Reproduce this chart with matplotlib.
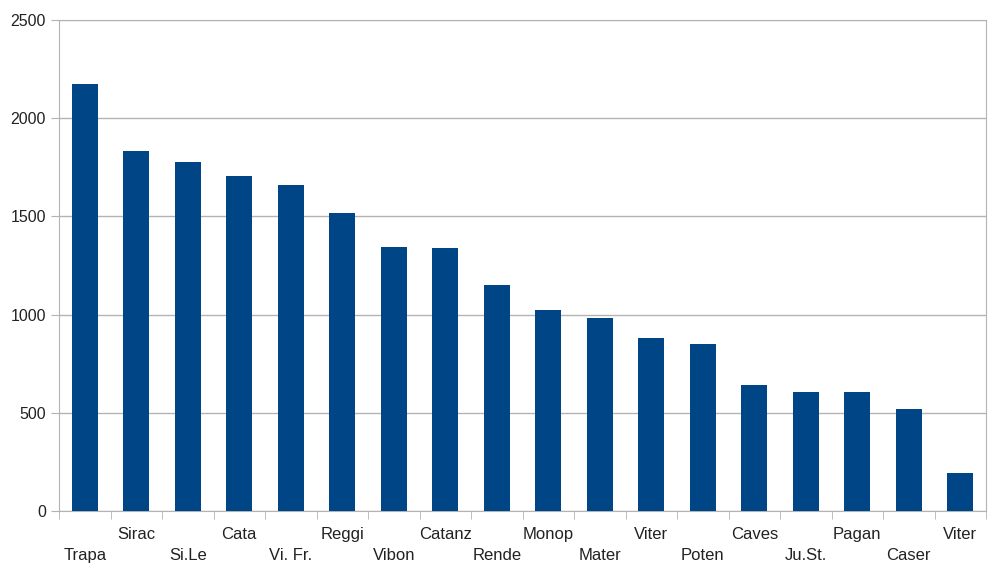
import numpy as np
import matplotlib.pyplot as plt

plt.rcParams['font.family'] = ['Liberation Sans', 'DejaVu Sans']

labels = ["Trapa", "Sirac", "Si.Le", "Cata", "Vi. Fr.", "Reggi", "Vibon", "Catanz", "Rende",
          "Monop", "Mater", "Viter", "Poten", "Caves", "Ju.St.", "Pagan", "Caser", "Viter"]
values = [2175, 1835, 1775, 1705, 1660, 1515, 1345, 1340, 1150,
          1025, 985, 880, 850, 640, 605, 605, 520, 195]

grey = '#b3b3b3'

fig = plt.figure(figsize=(10.05, 5.73), dpi=100)
ax = fig.add_axes([59 / 1005, 1 - 511 / 573, (986 - 59) / 1005, (511 - 20) / 573])

x = np.arange(len(labels))
ax.bar(x, values, width=0.5, color='#004586', zorder=3)

ax.set_xlim(-0.5, len(labels) - 0.5)
ax.set_ylim(0, 2500)
ax.set_yticks(np.arange(0, 2501, 500))
ax.yaxis.grid(True, color=grey, linewidth=1, zorder=0)

ax.set_xticks(x)
ax.set_xticklabels(labels)
ax.set_xticks(np.arange(-0.5, len(labels), 1), minor=True)
ax.tick_params(axis='x', which='major', length=0, labelsize=12, colors='#222222')
ax.tick_params(axis='x', which='minor', length=6, color=grey)
ax.tick_params(axis='y', length=6, color=grey, labelsize=11.5, labelcolor='#222222')
for i, t in enumerate(ax.xaxis.get_major_ticks()):
    t.set_pad(26.5 if i % 2 == 0 else 11.5)

for s in ax.spines.values():
    s.set_color(grey)

fig.savefig('out.png', dpi=100)
